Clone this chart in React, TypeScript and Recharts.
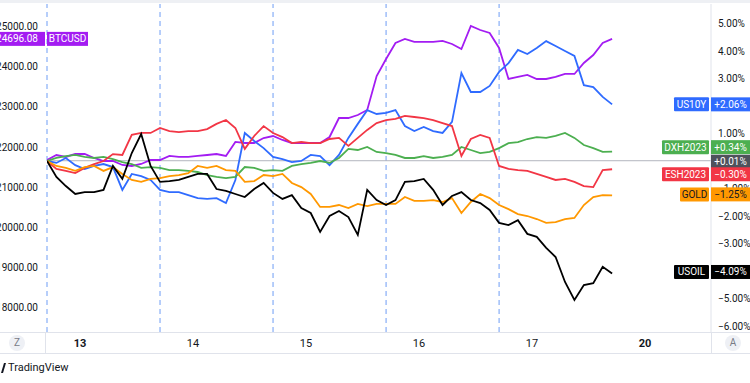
import React from 'react'
import { LineChart, Line, XAxis, YAxis, ReferenceLine } from 'recharts'

// one point per trading bar, 12 bars per session
const BARS = Array.from({ length: 61 }, (_, i) => i)
const SESSION_STARTS = [0, 12, 24, 36, 48]
const DAY_TICKS = [3.5, 15.5, 27.5, 39.5, 51.5, 63.5]
const DAY_LABELS = ['13', '14', '15', '16', '17', '20']
const WEEK_STARTS = ['13', '20']

const LEFT_TICKS = [18000, 19000, 20000, 21000, 22000, 23000, 24000, 25000]
const RIGHT_TICKS = [5, 4, 3, 1, -1, -2, -3, -5, -6]

// BTCUSD in price (left scale)
const BTCUSD = [
  21676, 21800, 21751, 21825, 21825, 21726, 21651, 21651, 21551, 21526, 21576,
  21676, 21676, 21776, 21751, 21751, 21776, 21800, 21825, 21776, 22125,
  22100, 22100, 22224, 22274, 22175, 22100, 22100, 22100, 22100, 22249,
  22723, 22723, 22798, 22923, 23771, 24195, 24594, 24694, 24619, 24619,
  24619, 24644, 24569, 24444, 25018, 24918, 24843, 24469, 23696, 23746,
  23796, 23696, 23696, 23746, 23821, 23821, 24095, 24294, 24594, 24696.08,
]

// the rest in % change (right scale)
const US10Y = [
  0, -0.07, 0.11, -0.15, -0.29, -0.18, -0.11, -0.22, -1.05, -0.47, -0.55,
  -0.69, -1.05, -1.13, -1.13, -1.24, -1.35, -1.38, -1.35, -1.53, -0.69,
  1.02, 0.73, 0.47, 0.15, 0.07, -0.04, 0, 0.22, 0.18, -0.15,
  0.22, 0.84, 1.35, 1.85, 1.71, 1.75, 1.85, 1.27, 1.09, 1.24,
  1.09, 1.02, 1.42, 3.2, 2.51, 2.51, 2.73, 3.24, 3.56, 4.04,
  3.89, 4.11, 4.36, 4.18, 4.0, 3.82, 2.76, 2.69, 2.33, 2.06,
]
const DXH2023 = [
  0, 0.11, 0.18, 0.22, 0.15, 0.11, 0.15, 0.07, -0.04, -0.11, -0.25,
  -0.22, -0.25, -0.33, -0.33, -0.36, -0.4, -0.51, -0.58, -0.62, -0.58,
  -0.22, -0.25, -0.36, -0.33, -0.36, -0.18, -0.11, -0.07, 0, -0.07,
  0.11, 0.44, 0.4, 0.51, 0.33, 0.29, 0.22, 0.11, 0.11, 0.18,
  0.11, 0.15, 0.22, 0.51, 0.4, 0.29, 0.33, 0.47, 0.65, 0.69,
  0.8, 0.87, 0.84, 0.91, 1.02, 0.84, 0.58, 0.47, 0.33, 0.34,
]
const ESH2023 = [
  0, -0.29, -0.36, -0.44, -0.25, -0.11, 0, 0.25, 0.22, 0.95, 1.02,
  1.02, 1.2, 1.09, 1.05, 1.09, 1.09, 1.16, 1.35, 1.49, 1.2,
  0.44, 0.91, 1.27, 1.02, 0.87, 0.65, 0.69, 0.65, 0.65, 0.8,
  0.84, 0.55, 0.84, 1.13, 1.38, 1.49, 1.53, 1.64, 1.6, 1.56,
  1.49, 1.38, 1.27, 0.18, 0.8, 0.95, 0.84, -0.18, -0.29, -0.33,
  -0.36, -0.47, -0.58, -0.69, -0.65, -0.76, -0.91, -0.95, -0.33, -0.3,
]
const GOLD = [
  0, -0.18, -0.25, -0.36, -0.22, -0.18, -0.36, -0.22, -0.47, -0.69, -0.76,
  -0.65, -0.62, -0.55, -0.51, -0.44, -0.18, -0.25, -0.18, -0.33, -0.36,
  -0.76, -0.73, -0.51, -0.55, -0.47, -0.8, -0.95, -1.2, -1.67, -1.67,
  -1.6, -1.71, -1.56, -1.64, -1.56, -1.56, -1.56, -1.31, -1.45, -1.45,
  -1.42, -1.49, -1.35, -1.89, -1.49, -1.2, -1.35, -1.6, -1.75, -1.93,
  -2.0, -2.11, -2.25, -2.22, -2.11, -2.07, -1.6, -1.31, -1.24, -1.25,
]
const USOIL = [
  0, -0.58, -0.91, -1.2, -1.13, -1.13, -1.05, -0.18, -0.65, 0.29, 0.98,
  -0.18, -0.76, -0.73, -0.69, -0.58, -0.47, -0.47, -1.02, -1.09, -1.2,
  -1.31, -1.02, -0.8, -1.16, -1.38, -1.24, -1.71, -1.89, -2.58, -2.0,
  -1.82, -2.04, -2.69, -1.05, -1.42, -1.6, -1.42, -0.76, -0.73, -0.65,
  -1.05, -1.6, -1.27, -1.13, -1.42, -1.53, -1.78, -2.25, -2.33, -2.15,
  -2.65, -2.76, -3.16, -3.49, -4.4, -5.05, -4.51, -4.44, -3.85, -4.09,
]
const MAIN_LAST = 0.01

const COLORS = {
  btc: '#a31cf2',
  us10y: '#2f6bff',
  dxh: '#4caf50',
  esh: '#f23645',
  gold: '#ff9800',
  oil: '#000000',
}

const data = BARS.map((t, i) => ({
  t,
  btc: BTCUSD[i],
  us10y: US10Y[i],
  dxh: DXH2023[i],
  esh: ESH2023[i],
  gold: GOLD[i],
  oil: USOIL[i],
}))

const FONT = 'Roboto, "Noto Sans", sans-serif'
const last = (a: number[]) => a[a.length - 1]
const pct = (v: number) => `${v >= 0 ? '+' : '\u2212'}${Math.abs(v).toFixed(2)}%`

// name + value tag on the right price scale; dy nudges tags apart like TV does
function rightTag(name: string, value: number, bg: string, fg = '#fff', dy = 0) {
  return (props: any) => {
    const { x, width } = props.viewBox
    const y = props.viewBox.y + dy
    const edge = x + width
    const nw = name ? name.length * 6 + 5 : 0
    return (
      <g fontFamily={FONT} fontSize={10}>
        {name && <rect x={edge - 2 - nw} y={y - 7} width={nw} height={14} fill={bg} rx={1} />}
        {name && (
          <text x={edge - 2 - nw / 2} y={y + 3.5} textAnchor="middle" fill={fg}>{name}</text>
        )}
        <rect x={edge} y={y - 7} width={39} height={14} fill={bg} />
        <text x={edge + 19.5} y={y + 3.5} textAnchor="middle" fill={fg}>{pct(value)}</text>
      </g>
    )
  }
}

function leftTag(name: string, value: number, bg: string) {
  return (props: any) => {
    const { x, y } = props.viewBox
    return (
      <g fontFamily={FONT} fontSize={10} fill="#fff">
        <rect x={x - 50} y={y - 7} width={48} height={14} fill={bg} />
        <text x={x - 9} y={y + 3.5} textAnchor="end">{value.toFixed(2)}</text>
        <rect x={x} y={y - 7} width={41} height={14} fill={bg} />
        <text x={x + 20.5} y={y + 3.5} textAnchor="middle">{name}</text>
      </g>
    )
  }
}

const DayTick = (props: any) => {
  const { x, y, payload } = props
  const label = DAY_LABELS[DAY_TICKS.indexOf(payload.value)]
  return (
    <text
      x={x} y={y + 15} textAnchor="middle" fontSize={11} fontFamily={FONT}
      fontWeight={WEEK_STARTS.includes(label) ? 700 : 400} fill="#131722"
    >
      {label}
    </text>
  )
}

const circle = (left: number, txt: string) => (
  <div style={{
    position: 'absolute', left, top: 335, width: 16, height: 16, borderRadius: 8,
    background: '#eef0f5', color: '#787b86', fontSize: 10, lineHeight: '16px',
    textAlign: 'center', fontFamily: FONT,
  }}>{txt}</div>
)

export default function App() {
  return (
    <div style={{ position: 'absolute', left: 0, top: 0, width: 750, height: 383, background: '#fff', overflow: 'hidden' }}>
      <LineChart width={750} height={353} data={data} margin={{ top: 4, right: 0, bottom: 0, left: 0 }}>
        <XAxis
          dataKey="t" type="number" domain={[0, 70.5]} allowDataOverflow ticks={DAY_TICKS}
          height={21} axisLine={false} tickLine={false} tickSize={0} tickMargin={0} tick={<DayTick />}
        />
        <YAxis
          yAxisId="left" orientation="left" width={47} domain={[17386, 25566]} allowDataOverflow
          ticks={LEFT_TICKS} tickFormatter={(v: number) => v.toFixed(2)} axisLine={false} tickLine={false}
          tickSize={0} tickMargin={9} tick={{ fontSize: 10, fill: '#131722', fontFamily: FONT }}
        />
        <YAxis
          yAxisId="right" orientation="right" width={39} domain={[-6.218, 5.709]} allowDataOverflow
          ticks={RIGHT_TICKS} tickFormatter={(v: number) => `${v < 0 ? '\u2212' : ''}${Math.abs(v).toFixed(2)}%`}
          axisLine={{ stroke: '#e0e3eb' }} tickLine={false} tickSize={0} tickMargin={7}
          tick={{ fontSize: 10, fill: '#131722', fontFamily: FONT }}
        />
        {SESSION_STARTS.map(s => (
          <ReferenceLine key={s} x={s} yAxisId="right" stroke="#6e9df5" strokeDasharray="5 4" />
        ))}
        <ReferenceLine yAxisId="right" y={MAIN_LAST} stroke="#b2b5be" />

        <Line yAxisId="left" dataKey="btc" stroke={COLORS.btc} strokeWidth={1.8} dot={false} isAnimationActive={false} />
        <Line yAxisId="right" dataKey="us10y" stroke={COLORS.us10y} strokeWidth={1.8} dot={false} isAnimationActive={false} />
        <Line yAxisId="right" dataKey="dxh" stroke={COLORS.dxh} strokeWidth={1.8} dot={false} isAnimationActive={false} />
        <Line yAxisId="right" dataKey="esh" stroke={COLORS.esh} strokeWidth={1.8} dot={false} isAnimationActive={false} />
        <Line yAxisId="right" dataKey="gold" stroke={COLORS.gold} strokeWidth={1.8} dot={false} isAnimationActive={false} />
        <Line yAxisId="right" dataKey="oil" stroke={COLORS.oil} strokeWidth={1.8} dot={false} isAnimationActive={false} />

        <ReferenceLine zIndex={2000} yAxisId="left" y={last(BTCUSD)} stroke="none" label={leftTag('BTCUSD', last(BTCUSD), COLORS.btc)} />
        <ReferenceLine zIndex={2000} yAxisId="right" y={last(US10Y)} stroke="none" label={rightTag('US10Y', last(US10Y), COLORS.us10y)} />
        <ReferenceLine zIndex={2000} yAxisId="right" y={last(DXH2023)} stroke="none" label={rightTag('DXH2023', last(DXH2023), COLORS.dxh, '#fff', -4.5)} />
        <ReferenceLine zIndex={2000} yAxisId="right" y={MAIN_LAST} stroke="none" label={rightTag('', MAIN_LAST, '#4f525c', '#fff', 1)} />
        <ReferenceLine zIndex={2000} yAxisId="right" y={last(ESH2023)} stroke="none" label={rightTag('ESH2023', last(ESH2023), COLORS.esh, '#fff', 5)} />
        <ReferenceLine zIndex={2000} yAxisId="right" y={last(GOLD)} stroke="none" label={rightTag('GOLD', last(GOLD), COLORS.gold, '#131722', -1)} />
        <ReferenceLine zIndex={2000} yAxisId="right" y={last(USOIL)} stroke="none" label={rightTag('USOIL', last(USOIL), COLORS.oil, '#fff', -1.5)} />
      </LineChart>

      {/* frame bits of the TradingView pane */}
      <div style={{ position: 'absolute', left: 0, top: 0, width: 750, height: 3, background: '#eef0f4' }} />
      <div style={{ position: 'absolute', left: 0, top: 332, width: 750, height: 1, background: '#e0e3eb' }} />
      <div style={{ position: 'absolute', left: 0, top: 353, width: 750, height: 1, background: '#e0e3eb' }} />
      <div style={{ position: 'absolute', left: 45, top: 332, width: 1, height: 21, background: '#e0e3eb' }} />
      <div style={{ position: 'absolute', left: 711, top: 332, width: 1, height: 21, background: '#e0e3eb' }} />
      {circle(9, 'Z')}
      {circle(725, 'A')}
      <div style={{ position: 'absolute', left: 0, top: 361, display: 'flex', alignItems: 'center', fontFamily: FONT, fontSize: 11, color: '#131722' }}>
        <svg width={6} height={10}><path d="M1 10 L4 0 L6 0 L3 10 Z" fill="#131722" /></svg>
        <span style={{ marginLeft: 2 }}>TradingView</span>
      </div>
    </div>
  )
}
